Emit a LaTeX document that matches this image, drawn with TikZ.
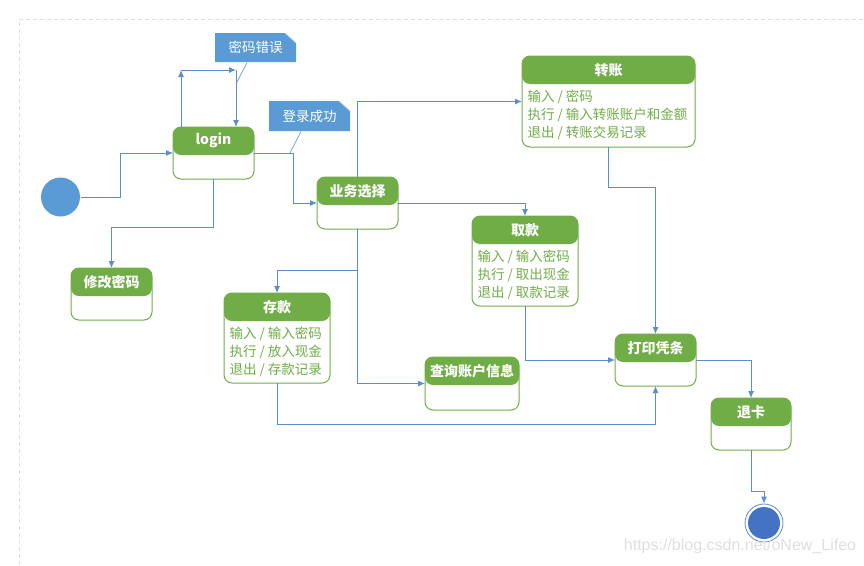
\documentclass[tikz,border=0pt]{standalone}
\usepackage{fontspec}
\setmainfont{Noto Sans CJK SC}
\newfontfamily\wmfont{Liberation Sans}
\usetikzlibrary{arrows.meta}

\definecolor{stgreen}{RGB}{112,173,71}
\definecolor{lineblue}{RGB}{90,143,203}
\definecolor{noteblue}{RGB}{91,155,213}
\definecolor{endblue}{RGB}{68,114,196}

\begin{document}
\begin{tikzpicture}[x=1pt,y=-1pt,line width=1pt,>={Latex[length=7pt,width=6pt]}]
\tikzstyle{state}=[draw=stgreen, fill=white, rounded corners=8pt, inner sep=0pt, outer sep=0pt,
    path picture={\fill[stgreen] (path picture bounding box.north west) rectangle ([yshift=-28pt]path picture bounding box.north east);}]
\tikzstyle{sttitle}=[text=white, font=\fontsize{14}{16}\selectfont\bfseries, inner sep=0pt]
\tikzstyle{stbody}=[text=stgreen, font=\fontsize{13.5}{18}\selectfont, align=left, anchor=north west, inner sep=0pt]
\tikzstyle{notebox}=[fill=white, text=white, minimum width=81pt, inner sep=0pt, font=\fontsize{13.5}{16}\selectfont,
    path picture={\fill[noteblue] (path picture bounding box.south west) -- (path picture bounding box.north west)
        -- ([xshift=-11pt]path picture bounding box.north east) -- ([yshift=-10pt]path picture bounding box.north east)
        -- (path picture bounding box.south east) -- cycle;
      \draw[line width=0.6pt, lineblue!35] ([xshift=-11pt]path picture bounding box.north east) -- ([yshift=-10pt]path picture bounding box.north east);}]
\tikzstyle{noteline}=[draw=lineblue!80, line width=0.8pt]
\tikzstyle{trans}=[draw=lineblue, ->]
\tikzstyle{initstate}=[circle, fill=noteblue, minimum size=39pt, inner sep=0pt]
\tikzstyle{endstate}=[circle, draw=lineblue, line width=0.8pt, fill=white, minimum size=38pt, inner sep=0pt,
    path picture={\fill[endblue] (path picture bounding box.center) circle (16pt);}]
\tikzstyle{frame}=[draw=gray!25, line width=0.8pt, dash pattern=on 4pt off 3pt]

\useasboundingbox (0,0) rectangle (864,565);
\draw[frame] (19,565) -- (19,19) -- (864,19);

% states
\node[initstate] (init) at (60.5,197) {};
\node[state, minimum width=81pt, minimum height=52pt] (login) at (213.5,153) {};
\node[sttitle] (login-t) at ([yshift=-13.5pt]login.north) {login};
\node[state, minimum width=81pt, minimum height=52pt] (xgmm) at (111.5,294) {};
\node[sttitle] (xgmm-t) at ([yshift=-14pt]xgmm.north) {修改密码};
\node[state, minimum width=81pt, minimum height=52pt] (ywxz) at (357.5,203) {};
\node[sttitle] (ywxz-t) at ([yshift=-14pt]ywxz.north) {业务选择};

\node[state, minimum width=173pt, minimum height=91pt] (zz) at (608.5,101.5) {};
\node[sttitle] (zz-t) at ([yshift=-14pt]zz.north) {转账};
\node[stbody] (zz-b) at ([xshift=5pt,yshift=-34pt]zz.north west)
    {输入 / 密码\\执行 / 输入转账账户和金额\\退出 / 转账交易记录};

\node[state, minimum width=106pt, minimum height=90pt] (qk) at (525,261) {};
\node[sttitle] (qk-t) at ([yshift=-14pt]qk.north) {取款};
\node[stbody] (qk-b) at ([xshift=5pt,yshift=-34pt]qk.north west)
    {输入 / 输入密码\\执行 / 取出现金\\退出 / 取款记录};

\node[state, minimum width=106pt, minimum height=90pt] (ck) at (277,338) {};
\node[sttitle] (ck-t) at ([yshift=-14pt]ck.north) {存款};
\node[stbody] (ck-b) at ([xshift=5pt,yshift=-34pt]ck.north west)
    {输入 / 输入密码\\执行 / 放入现金\\退出 / 存款记录};

\node[state, minimum width=94pt, minimum height=53pt] (cx) at (472,383.5) {};
\node[sttitle] (cx-t) at ([yshift=-14pt]cx.north) {查询账户信息};
\node[state, minimum width=81pt, minimum height=52pt] (dy) at (655.5,360) {};
\node[sttitle] (dy-t) at ([yshift=-14pt]dy.north) {打印凭条};
\node[state, minimum width=80pt, minimum height=52pt] (tk) at (751,424) {};
\node[sttitle] (tk-t) at ([yshift=-14pt]tk.north) {退卡};
\node[endstate] (final) at (764,523) {};

% notes
\node[notebox, minimum height=29pt] (noteerr) at (255.5,47.5) {密码错误};
\node[notebox, minimum height=30pt] (noteok) at (309.5,116) {登录成功};
\coordinate (errpt) at (236,84);
\coordinate (okpt) at (290,153);
\draw[noteline] ([xshift=-8.5pt]noteerr.south) -- (errpt);
\draw[noteline] ([xshift=-8.5pt]noteok.south) -- (okpt);

% transitions
\coordinate (loopa) at (181,70);
\coordinate (loopb) at (236,70);
\draw[trans] (loopa |- login.north) -- (loopa);
\draw[trans] (loopa) -- (loopb);
\draw[trans] (loopb) -- (loopb |- login.north);
\draw[trans] (init.east) -- ++(40,0) |- (login.west);
\draw[trans] (login.east) -- ++(39,0) |- (ywxz.west);
\draw[trans] (login.south) -- ++(0,48) -| (xgmm.north);
\draw[trans] (ywxz.north) |- (zz.west);
\draw[trans] (ywxz.east) -| (qk.north);
\draw[trans] (ywxz.south) -- ++(0,41) -| (ck.north);
\draw[trans] (ywxz.south) |- (cx.west);
\draw[trans] (zz.south) -- ++(0,40) -| (dy.north);
\draw[trans] (qk.south) |- (dy.west);
\draw[trans] (ck.south) -- ++(0,41) -| (dy.south);
\draw[trans] (dy.east) -| (tk.north);
\draw[trans] (tk.south) -- ++(0,41) -| (final.north);

\node[font=\wmfont\fontsize{16}{18}\selectfont, text=gray!25] (wm) at (740,546) {https://blog.csdn.net/oNew\_Lifeo};
\end{tikzpicture}
\end{document}
